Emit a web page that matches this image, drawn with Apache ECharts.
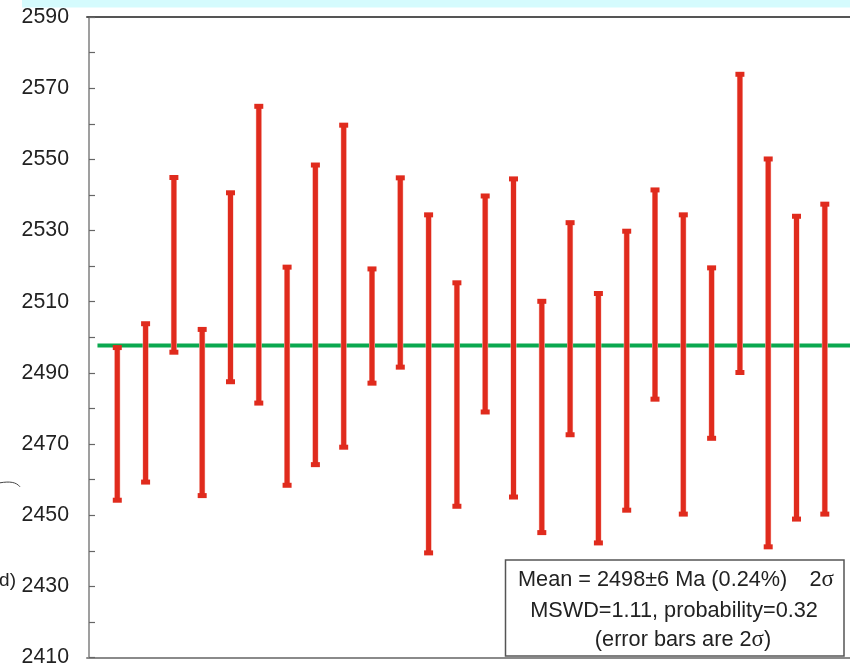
<!DOCTYPE html>
<html>
<head>
<meta charset="utf-8">
<script src="https://cdn.jsdelivr.net/npm/echarts@6/dist/echarts.min.js"></script>
<style>html,body{margin:0;padding:0;background:#fff;}#c{width:850px;height:668px;}</style>
</head>
<body>
<div id="c"></div>
<script>
// Analysis number (x position), upper and lower 2σ limits (Ma)
var spots = [1,2,3,4,5,6,7,8,9,10,11,12,13,14,15,16,17,18,19,20,21,22,23,24,25,26];
var upper = [2497.1,2503.8,2544.9,2502.2,2540.6,2564.9,2519.7,2548.4,2559.6,2519.2,2544.8,2534.4,2515.3,
             2539.7,2544.5,2510.1,2532.2,2512.3,2529.8,2541.4,2534.4,2519.5,2573.9,2550.1,2534.0,2537.4];
var lower = [2454.2,2459.3,2495.8,2455.5,2487.5,2481.5,2458.4,2464.2,2469.1,2487.1,2491.6,2439.4,2452.5,
             2479.0,2455.1,2445.1,2472.6,2442.2,2451.4,2482.6,2450.3,2471.6,2490.1,2441.1,2448.9,2450.3];
var meanAge = 2497.7;
var meanLineX = [0.3, 26.89];
var yTicks = [2410,2430,2450,2470,2490,2510,2530,2550,2570,2590];

var errData = spots.map(function(s,i){ return [s, lower[i], upper[i]]; });

var chart = echarts.init(document.getElementById('c'), null, {renderer:'canvas'});
var red = '#e02b1d';
var halo = '#f7b9b1';
var FONT = 'Liberation Sans, Arial, sans-serif';
chart.setOption({
  animation:false,
  backgroundColor:'#ffffff',
  grid:{left:87, right:0, top:17, bottom:8},
  xAxis:[
    {type:'value', min:-0.07, max:26.89, position:'bottom',
     axisLine:{show:true, onZero:false, lineStyle:{color:'#8a8a8a', width:2}},
     axisTick:{show:false}, axisLabel:{show:false}, splitLine:{show:false}},
    {type:'value', min:-0.07, max:26.89, position:'top',
     axisLine:{show:true, onZero:false, lineStyle:{color:'#555555', width:2}},
     axisTick:{show:false}, axisLabel:{show:false}, splitLine:{show:false}}
  ],
  yAxis:{type:'value', min:2410, max:2590, interval:10,
    axisLine:{show:true, lineStyle:{color:'#7f7f7f', width:1.5}},
    axisTick:{show:true, inside:true, length:6, lineStyle:{color:'#666', width:1.2}},
    axisLabel:{margin:18, fontSize:21.3, color:'#222', fontFamily:FONT,
      formatter:function(v){ return yTicks.indexOf(v) >= 0 ? String(v) : ''; }},
    splitLine:{show:false}},
  series:[
    {type:'line', data:[[meanLineX[0], meanAge],[meanLineX[1], meanAge]], symbol:'none',
     lineStyle:{color:'#0aa84f', width:4}, z:1},
    {type:'custom', data:errData, z:2,
     encode:{x:0, y:[1,2]},
     renderItem:function(params, api){
       var x = api.value(0);
       var lo = api.coord([x, api.value(1)]);
       var hi = api.coord([x, api.value(2)]);
       var sw = 5, cw = 9, ch = 5;
       return {type:'group', children:[
         {type:'rect', shape:{x:hi[0]-sw/2-0.5, y:hi[1], width:sw+1, height:lo[1]-hi[1]}, style:{fill:halo}},
         {type:'rect', shape:{x:hi[0]-sw/2, y:hi[1], width:sw, height:lo[1]-hi[1]}, style:{fill:red}},
         {type:'rect', shape:{x:hi[0]-cw/2, y:hi[1]-ch/2, width:cw, height:ch}, style:{fill:red}},
         {type:'rect', shape:{x:lo[0]-cw/2, y:lo[1]-ch/2, width:cw, height:ch}, style:{fill:red}}
       ]};
     }}
  ],
  graphic:[
    {type:'rect', shape:{x:22, y:0, width:828, height:7.5}, style:{fill:'#d5fbfd'}, z:10},
    {type:'bezierCurve', shape:{x1:0, y1:482.8, x2:20, y2:486.8, cpx1:10, cpy1:481.2, cpx2:16, cpy2:482}, style:{stroke:'#444', lineWidth:1, fill:null}, z:10},
    {type:'text', x:16, y:581, style:{text:'d)', fontSize:19, fill:'#222', align:'right', verticalAlign:'middle', fontFamily:FONT}, z:10},
    {type:'rect', shape:{x:505.5, y:560, width:338.5, height:96}, style:{fill:'#ffffff', stroke:'#555555', lineWidth:1.5}, z:20},
    {type:'text', x:518, y:580, style:{text:'Mean = 2498±6 Ma (0.24%)', fontSize:21.7, fill:'#222', align:'left', verticalAlign:'middle', fontFamily:FONT}, z:21},
    {type:'text', x:834, y:580, style:{text:'2{s|σ}', fontSize:21.7, fill:'#222', align:'right', verticalAlign:'middle', fontFamily:FONT,
       rich:{s:{fontFamily:'Liberation Serif, DejaVu Serif, serif', fontSize:23, fill:'#222'}}}, z:21},
    {type:'text', x:674, y:611, style:{text:'MSWD=1.11, probability=0.32', fontSize:21.7, fill:'#222', align:'center', verticalAlign:'middle', fontFamily:FONT}, z:21},
    {type:'text', x:683, y:640, style:{text:'(error bars are 2{s|σ})', fontSize:21.7, fill:'#222', align:'center', verticalAlign:'middle', fontFamily:FONT,
       rich:{s:{fontFamily:'Liberation Serif, DejaVu Serif, serif', fontSize:23, fill:'#222'}}}, z:21}
  ]
});
</script>
</body>
</html>
